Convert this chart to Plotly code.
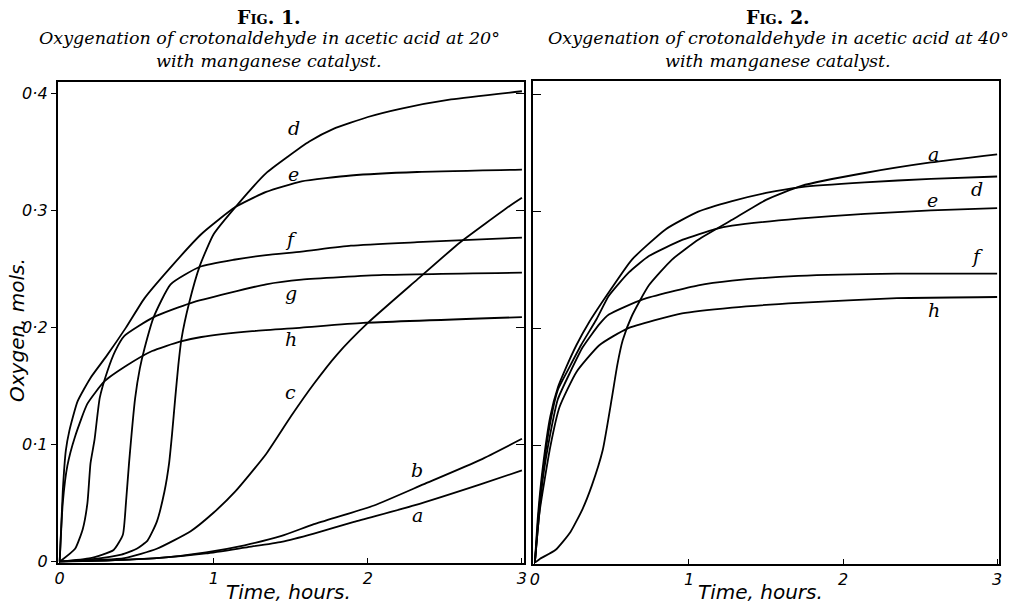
import plotly.graph_objects as go

# ---------------- Fig. 1 data (20°) ----------------
f1_a_x = [0, 0.3, 0.63, 0.95, 1.2, 1.44, 1.65, 1.91, 2.3, 2.73, 3.0]
f1_a_y = [0, 0.001, 0.003, 0.007, 0.012, 0.017, 0.024, 0.034, 0.048, 0.066, 0.078]
f1_b_x = [0, 0.3, 0.63, 0.95, 1.2, 1.44, 1.65, 2.04, 2.36, 2.73, 3.0]
f1_b_y = [0, 0.001, 0.003, 0.008, 0.014, 0.022, 0.032, 0.048, 0.066, 0.087, 0.105]
f1_c_x = [0, 0.42, 0.63, 0.85, 1.0, 1.14, 1.34, 1.5, 1.65, 1.8, 2.0, 2.32, 2.6, 2.92, 3.0]
f1_c_y = [0, 0.003, 0.011, 0.026, 0.042, 0.06, 0.092, 0.124, 0.152, 0.177, 0.204, 0.241, 0.273, 0.304, 0.311]
f1_d_x = [0, 0.2, 0.4, 0.5, 0.57, 0.63, 0.68, 0.71, 0.73, 0.75, 0.77, 0.79, 0.84, 0.91, 1.0, 1.16, 1.34, 1.48, 1.62, 1.78, 2.0, 2.21, 2.54, 3.0]
f1_d_y = [0, 0.002, 0.006, 0.011, 0.018, 0.034, 0.06, 0.084, 0.11, 0.14, 0.168, 0.19, 0.221, 0.253, 0.28, 0.306, 0.332, 0.346, 0.359, 0.37, 0.38, 0.387, 0.395, 0.402]
f1_e_x = [0, 0.02, 0.04, 0.063, 0.116, 0.2, 0.3, 0.43, 0.55, 0.71, 0.92, 1.14, 1.34, 1.57, 1.89, 2.32, 3.0]
f1_e_y = [0, 0.06, 0.095, 0.112, 0.137, 0.157, 0.175, 0.2, 0.225, 0.25, 0.28, 0.303, 0.316, 0.325, 0.33, 0.333, 0.335]
f1_f_x = [0, 0.2, 0.35, 0.41, 0.43, 0.45, 0.49, 0.52, 0.55, 0.61, 0.72, 0.91, 1.13, 1.34, 1.57, 1.89, 2.32, 3.0]
f1_f_y = [0, 0.003, 0.01, 0.023, 0.05, 0.084, 0.14, 0.165, 0.182, 0.209, 0.237, 0.252, 0.258, 0.262, 0.265, 0.27, 0.273, 0.277]
f1_g_x = [0, 0.1, 0.15, 0.18, 0.2, 0.226, 0.26, 0.31, 0.36, 0.42, 0.61, 0.85, 1.34, 1.57, 2.1, 3.0]
f1_g_y = [0, 0.011, 0.028, 0.05, 0.084, 0.104, 0.14, 0.163, 0.18, 0.193, 0.209, 0.221, 0.237, 0.241, 0.245, 0.247]
f1_h_x = [0, 0.02, 0.05, 0.1, 0.18, 0.29, 0.44, 0.6, 0.78, 0.92, 1.25, 1.57, 1.97, 3.0]
f1_h_y = [0, 0.05, 0.082, 0.107, 0.135, 0.154, 0.168, 0.18, 0.188, 0.192, 0.197, 0.2, 0.204, 0.209]

# ---------------- Fig. 2 data (40°) ----------------
f2_a_x = [0, 0.03, 0.135, 0.23, 0.31, 0.37, 0.44, 0.5, 0.535, 0.57, 0.63, 0.74, 0.89, 1.06, 1.28, 1.5, 1.73, 2.14, 2.57, 3.0]
f2_a_y = [0, 0.003, 0.011, 0.026, 0.046, 0.066, 0.096, 0.141, 0.169, 0.19, 0.211, 0.237, 0.259, 0.276, 0.293, 0.31, 0.322, 0.333, 0.342, 0.349]
f2_d_x = [0, 0.02, 0.05, 0.1, 0.15, 0.2, 0.27, 0.35, 0.48, 0.63, 0.85, 1.06, 1.28, 1.5, 1.73, 2.14, 2.57, 3.0]
f2_d_y = [0, 0.04, 0.08, 0.125, 0.15, 0.166, 0.186, 0.205, 0.231, 0.259, 0.285, 0.3, 0.309, 0.316, 0.321, 0.325, 0.328, 0.33]
f2_e_x = [0, 0.02, 0.05, 0.1, 0.15, 0.22, 0.3, 0.4, 0.48, 0.61, 0.74, 0.96, 1.17, 1.28, 1.71, 2.14, 2.57, 3.0]
f2_e_y = [0, 0.035, 0.075, 0.12, 0.148, 0.166, 0.186, 0.208, 0.228, 0.248, 0.262, 0.276, 0.285, 0.288, 0.294, 0.298, 0.301, 0.303]
f2_f_x = [0, 0.02, 0.05, 0.1, 0.15, 0.23, 0.31, 0.42, 0.48, 0.7, 1.06, 1.28, 1.71, 2.35, 3.0]
f2_f_y = [0, 0.03, 0.07, 0.11, 0.14, 0.163, 0.184, 0.204, 0.212, 0.225, 0.237, 0.241, 0.245, 0.247, 0.247]
f2_h_x = [0, 0.03, 0.1, 0.16, 0.27, 0.42, 0.6, 0.955, 1.28, 1.71, 2.35, 3.0]
f2_h_y = [0, 0.043, 0.099, 0.133, 0.163, 0.186, 0.2, 0.213, 0.218, 0.222, 0.226, 0.227]

# curve labels (letter, x, y)
f1_labels = [("d", 1.52, 0.371), ("e", 1.52, 0.331), ("f", 1.5, 0.276), ("g", 1.5, 0.230),
             ("h", 1.5, 0.190), ("c", 1.5, 0.145), ("b", 2.32, 0.078), ("a", 2.32, 0.040)]
f2_labels = [("a", 2.59, 0.349), ("d", 2.87, 0.319), ("e", 2.58, 0.310),
             ("f", 2.87, 0.262), ("h", 2.59, 0.216)]

x_ticks = [0, 1, 2, 3]
x_ticktext = ["0", "1", "2", "3"]
y_ticks = [0, 0.1, 0.2, 0.3, 0.4]
y_ticktext = ["0", "0·1", "0·2", "0·3", "0·4"]

W, H = 1025, 611
def px(v):
    return v / W
def py(v):
    return 1 - v / H

fig = go.Figure()

line_style = dict(color="black", width=1.8, shape="spline", smoothing=0.5)

for xs, ys in [(f1_a_x, f1_a_y), (f1_b_x, f1_b_y), (f1_c_x, f1_c_y), (f1_d_x, f1_d_y),
               (f1_e_x, f1_e_y), (f1_f_x, f1_f_y), (f1_g_x, f1_g_y), (f1_h_x, f1_h_y)]:
    fig.add_trace(go.Scatter(x=xs, y=ys, mode="lines", line=line_style,
                             xaxis="x", yaxis="y", showlegend=False, hoverinfo="skip"))

for xs, ys in [(f2_a_x, f2_a_y), (f2_d_x, f2_d_y), (f2_e_x, f2_e_y),
               (f2_f_x, f2_f_y), (f2_h_x, f2_h_y)]:
    fig.add_trace(go.Scatter(x=xs, y=ys, mode="lines", line=line_style,
                             xaxis="x2", yaxis="y2", showlegend=False, hoverinfo="skip"))

label_font = dict(family="DejaVu Serif", size=19, color="black", style="italic")
for t, x, y in f1_labels:
    fig.add_annotation(x=x, y=y, xref="x", yref="y", text=t, showarrow=False, font=label_font)
for t, x, y in f2_labels:
    fig.add_annotation(x=x, y=y, xref="x2", yref="y2", text=t, showarrow=False, font=label_font)

tick_font = dict(family="DejaVu Sans", size=16, color="black", style="italic")
frame = dict(showline=True, linecolor="black", linewidth=1.8, mirror=True,
             showgrid=False, zeroline=False, ticks="inside", tickcolor="black",
             tickwidth=1.3, fixedrange=True)

xr = [-0.013, 3.013]
fig.update_layout(
    width=W, height=H,
    margin=dict(l=0, r=0, t=0, b=0),
    paper_bgcolor="white", plot_bgcolor="white",
    xaxis=dict(domain=[px(55), px(524)], range=xr, anchor="y",
               tickvals=x_ticks, ticktext=x_ticktext, ticklen=5,
               tickfont=tick_font, **frame),
    yaxis=dict(domain=[py(571), py(83)], range=[-0.0008, 0.4101], anchor="x",
               tickvals=y_ticks, ticktext=y_ticktext,
               **{**frame, "ticks": "outside"}, ticklen=5, tickfont=tick_font),
    yaxis3=dict(overlaying="y", side="right", anchor="x", range=[-0.0008, 0.4101],
                tickvals=[0.1, 0.2, 0.3, 0.4], ticks="inside", ticklen=8,
                tickcolor="black", tickwidth=1.3, showticklabels=False,
                showgrid=False, zeroline=False, showline=False, fixedrange=True),
    xaxis2=dict(domain=[px(533), px(1002)], range=xr, anchor="y2",
                tickvals=x_ticks, ticktext=x_ticktext, ticklen=5,
                tickfont=tick_font, **frame),
    yaxis2=dict(domain=[py(572), py(82)], range=[-0.0008, 0.4118], anchor="x2",
                tickvals=[0.1, 0.2, 0.3, 0.4], ticklen=8, showticklabels=False, **frame),
)
# invisible trace so the inner right-hand tick axis of Fig. 1 is drawn
fig.add_trace(go.Scatter(x=[0], y=[0], mode="lines", line=dict(width=0),
                         xaxis="x", yaxis="y3", showlegend=False, hoverinfo="skip"))

title_font = dict(family="DejaVu Serif", size=19, color="black", weight="bold", variant="small-caps")
sub_font = dict(family="DejaVu Serif", size=17.5, color="black", style="italic")
axis_font = dict(family="DejaVu Sans", size=20, color="black", style="italic")

def note(x, y, text, font, angle=0):
    fig.add_annotation(x=px(x), y=py(y), xref="paper", yref="paper", showarrow=False,
                       xanchor="center", yanchor="middle", text=text, font=font,
                       textangle=angle)

for cx, n, temp in [(268, "1", "20°"), (780, "2", "40°")]:
    note(cx, 17, f"Fig. {n}.", title_font)
    note(cx, 39, f"Oxygenation of crotonaldehyde in acetic acid at {temp}", sub_font)
    note(cx, 62, "with manganese catalyst.", sub_font)

note(287, 601, "Time, hours.", axis_font)
note(762, 601, "Time, hours.", axis_font)
note(14, 335, "Oxygen, mols.", axis_font, angle=-90)

fig.write_html("out.html")
